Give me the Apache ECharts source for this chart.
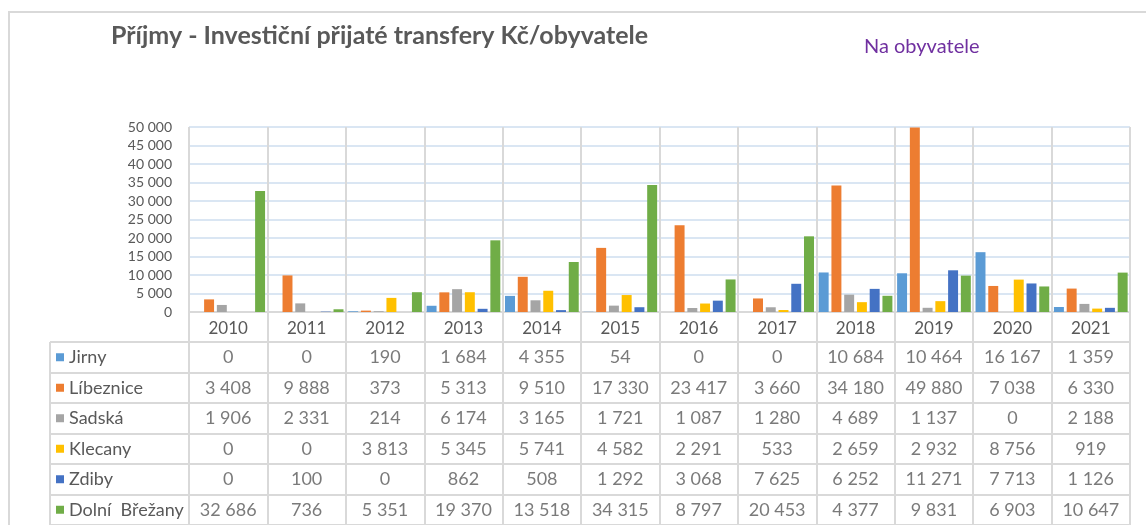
<!DOCTYPE html>
<html>
<head>
<meta charset="utf-8">
<title>Příjmy - Investiční přijaté transfery</title>
<script src="https://cdn.jsdelivr.net/npm/echarts@6/dist/echarts.min.js"></script>
<style>
  html, body { margin: 0; padding: 0; background: #fff; }
  #chart { width: 1146px; height: 525px; }
</style>
</head>
<body>
<div id="chart"></div>
<script>
const years = ['2010', '2011', '2012', '2013', '2014', '2015', '2016', '2017', '2018', '2019', '2020', '2021']
const seriesNames = ['Jirny', 'Líbeznice', 'Sadská', 'Klecany', 'Zdiby', 'Dolní  Břežany']
const jirny = [0, 0, 190, 1684, 4355, 54, 0, 0, 10684, 10464, 16167, 1359]
const libeznice = [3408, 9888, 373, 5313, 9510, 17330, 23417, 3660, 34180, 49880, 7038, 6330]
const sadska = [1906, 2331, 214, 6174, 3165, 1721, 1087, 1280, 4689, 1137, 0, 2188]
const klecany = [0, 0, 3813, 5345, 5741, 4582, 2291, 533, 2659, 2932, 8756, 919]
const zdiby = [0, 100, 0, 862, 508, 1292, 3068, 7625, 6252, 11271, 7713, 1126]
const dolniBrezany = [32686, 736, 5351, 19370, 13518, 34315, 8797, 20453, 4377, 9831, 6903, 10647]
const yMax = 50000
const yStep = 5000

const allValues = [jirny, libeznice, sadska, klecany, zdiby, dolniBrezany]
const colors = ['#5B9BD5', '#ED7D31', '#A5A5A5', '#FFC000', '#4472C4', '#70AD47']

const textColor = '#595959'
const lineGray = '#D9D9D9'
const font = 'Lato'

// 12 345 -> "12 345"
function fmt(v) {
  return String(v).replace(/\B(?=(\d{3})+(?!\d))/g, ' ')
}

const chart = echarts.init(document.getElementById('chart'))

// rich styles for the little colour keys in the table
const rich = { name: { color: textColor, fontSize: 18, fontFamily: font, padding: [0, 0, 0, 5] } }
colors.forEach((c, i) => {
  rich['k' + i] = { width: 8, height: 8, backgroundColor: c }
})

const barSeries = seriesNames.map((name, i) => ({
  name: name,
  type: 'bar',
  xAxisIndex: 0,
  yAxisIndex: 0,
  data: allValues[i],
  barCategoryGap: '6%',
  barGap: '28%',
  itemStyle: { color: colors[i] }
}))

// table cells: [year index, row index, value]
const cellData = []
allValues.forEach((arr, r) => {
  arr.forEach((v, c) => cellData.push([c, r, v]))
})

const option = {
  animation: false,
  textStyle: { fontFamily: font },
  title: [
    {
      text: 'Příjmy - Investiční přijaté transfery Kč/obyvatele',
      left: 106,
      top: 18,
      textStyle: { color: textColor, fontSize: 25, fontWeight: 'bold', fontFamily: font }
    },
    {
      text: 'Na obyvatele',
      left: 859,
      top: 32,
      textStyle: { color: '#7030A0', fontSize: 20, fontWeight: 'normal', fontFamily: font }
    }
  ],
  graphic: [
    {
      // chart area frame
      type: 'rect',
      shape: { x: 9, y: 12, width: 1200, height: 600 },
      style: { fill: 'none', stroke: lineGray, lineWidth: 2 },
      silent: true
    },
    {
      // left edge of the data table
      type: 'line',
      shape: { x1: 50, y1: 342, x2: 50, y2: 600 },
      style: { stroke: lineGray, lineWidth: 2 },
      silent: true
    }
  ],
  grid: [
    { left: 189, right: 16, top: 127, height: 185 },
    { left: 189, right: 16, top: 342, height: 192 }
  ],
  xAxis: [
    {
      type: 'category',
      gridIndex: 0,
      data: years,
      boundaryGap: true,
      axisLine: { show: true, lineStyle: { color: lineGray, width: 2 } },
      axisTick: { show: true, length: 30, interval: 0, lineStyle: { color: lineGray, width: 2 } },
      axisLabel: { color: textColor, fontSize: 17, margin: 8, interval: 0 },
      splitLine: { show: true, interval: 0, lineStyle: { color: lineGray, width: 2 } }
    },
    {
      type: 'category',
      gridIndex: 1,
      data: years,
      position: 'top',
      boundaryGap: true,
      axisLine: { show: true, lineStyle: { color: lineGray, width: 2 } },
      axisTick: { show: false },
      axisLabel: { show: false },
      splitLine: { show: true, interval: 0, lineStyle: { color: lineGray, width: 2 } }
    }
  ],
  yAxis: [
    {
      type: 'value',
      gridIndex: 0,
      min: 0,
      max: yMax,
      interval: yStep,
      axisLine: { show: false },
      axisTick: { show: false },
      axisLabel: { color: textColor, fontSize: 14, margin: 17, formatter: v => fmt(v) },
      splitLine: { show: true, lineStyle: { color: '#DAE6F3', width: 2 } }
    },
    {
      type: 'category',
      gridIndex: 1,
      data: seriesNames,
      inverse: true,
      boundaryGap: true,
      axisLine: { show: true, lineStyle: { color: lineGray, width: 2 } },
      axisTick: { show: true, length: 139, interval: 0, lineStyle: { color: lineGray, width: 2 } },
      axisLabel: {
        align: 'left',
        margin: 133,
        interval: 0,
        formatter: (v, i) => '{k' + i + '|}{name|' + v + '}',
        rich: rich
      },
      splitLine: { show: true, interval: 0, lineStyle: { color: lineGray, width: 2 } }
    }
  ],
  series: barSeries.concat([
    {
      name: 'table',
      type: 'scatter',
      xAxisIndex: 1,
      yAxisIndex: 1,
      data: cellData,
      symbolSize: 0,
      silent: true,
      label: {
        show: true,
        position: 'inside',
        color: textColor,
        fontSize: 18,
        fontFamily: font,
        formatter: p => fmt(p.value[2])
      }
    }
  ])
}

chart.setOption(option)
</script>
</body>
</html>
